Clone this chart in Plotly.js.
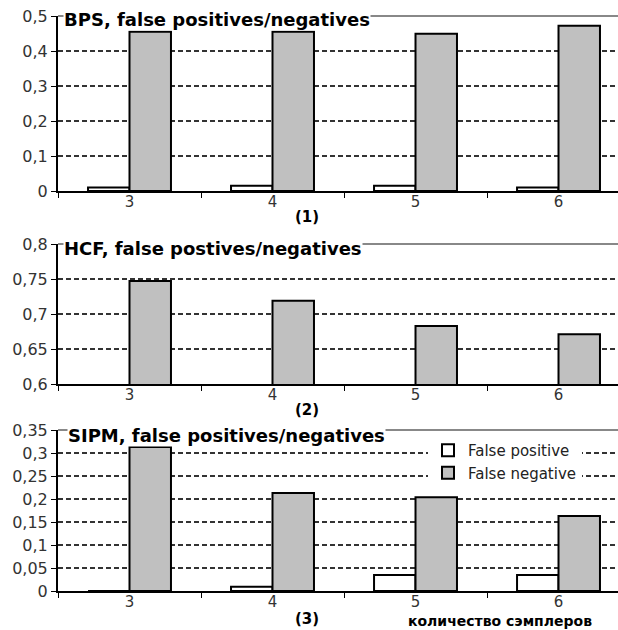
<!DOCTYPE html>
<html><head><meta charset="utf-8">
<script src="https://cdn.plot.ly/plotly-3.0.1.min.js"></script>
<style>html,body{margin:0;padding:0;background:#fff}</style>
</head><body><div id="chart" style="width:618px;height:630px"></div>
<script>
const categories = ["3", "4", "5", "6"];
const seriesNames = ["False positive", "False negative"];
const bpsFalsePositive = [0.01, 0.015, 0.015, 0.01];
const bpsFalseNegative = [0.455, 0.455, 0.449, 0.472];
const hcfFalsePositive = [0, 0, 0, 0];
const hcfFalseNegative = [0.747, 0.719, 0.683, 0.671];
const sipmFalsePositive = [0, 0.009, 0.035, 0.035];
const sipmFalseNegative = [0.313, 0.213, 0.204, 0.163];
const panelTitles = ["BPS, false positives/negatives", "HCF, false postives/negatives", "SIPM, false positives/negatives"];
const panelLabels = ["(1)", "(2)", "(3)"];
const xAxisTitle = "количество сэмплеров";

const W = 618, H = 630, L = 58, PW = W - L;
const px2y = p => 1 - p / H;
const px2x = p => (p - L) / PW;
const panels = [
  {fp: bpsFalsePositive, fn: bpsFalseNegative, top: 16, bottom: 191, range: [0, 0.5], dtick: 0.1, titleX: 63, titleY: 19, labelY: 217},
  {fp: hcfFalsePositive, fn: hcfFalseNegative, top: 244, bottom: 384, range: [0.6, 0.8], dtick: 0.05, titleX: 63, titleY: 249, labelY: 410},
  {fp: sipmFalsePositive, fn: sipmFalseNegative, top: 430, bottom: 591, range: [0, 0.35], dtick: 0.05, titleX: 67, titleY: 435, labelY: 619}
];
const fills = ["#ffffff", "#c0c0c0"];
const tickFont = {family: "DejaVu Sans", size: 15, color: "#333"};
const traces = [];
const layout = {
  width: W, height: H,
  margin: {l: L, r: 0, t: 0, b: 0, pad: 0},
  paper_bgcolor: "#fff", plot_bgcolor: "#fff",
  separators: ", ",
  barmode: "group", bargap: 0.42, bargroupgap: 0,
  showlegend: true,
  legend: {x: px2x(428), y: px2y(434), xanchor: "left", yanchor: "top", bgcolor: "#fff",
           font: {family: "DejaVu Sans", size: 15, color: "#222"}, traceorder: "normal",
           itemwidth: 30, tracegroupgap: 0},
  shapes: [], annotations: []
};
panels.forEach((p, i) => {
  const s = i === 0 ? "" : String(i + 1);
  [p.fp, p.fn].forEach((vals, k) => {
    traces.push({
      type: "bar", x: categories, y: vals, name: seriesNames[k],
      xaxis: "x" + s, yaxis: "y" + s,
      marker: {color: fills[k], line: {color: "#000", width: 2}},
      showlegend: i === 2, hoverinfo: "skip"
    });
  });
  layout["xaxis" + s] = {
    type: "category", range: [-0.5, 3.416], anchor: "y" + s,
    showgrid: false, zeroline: false, showline: true, linecolor: "#000", linewidth: 2,
    ticks: "outside", tickson: "boundaries", ticklen: 5, tickcolor: "#000", tickwidth: 1,
    ticklabelstandoff: -4,
    tickfont: tickFont, fixedrange: true
  };
  layout["yaxis" + s] = {
    domain: [px2y(p.bottom), px2y(p.top)], range: p.range, dtick: p.dtick, tick0: 0,
    anchor: "x" + s, showline: true, linecolor: "#000", linewidth: 2,
    ticks: "outside", ticklen: 5, tickcolor: "#000", tickwidth: 1,
    showgrid: true, gridcolor: "#333", gridwidth: 1.2, griddash: "5px,3px",
    zeroline: false, tickfont: {family: "DejaVu Sans", size: 16, color: "#333"}, fixedrange: true
  };
  layout.shapes.push({type: "line", xref: "paper", yref: "paper", x0: 0, x1: 1,
    y0: px2y(p.top), y1: px2y(p.top), line: {color: "#888", width: 2}, layer: "above"});
  layout.annotations.push({xref: "paper", yref: "paper", x: px2x(p.titleX), y: px2y(p.titleY),
    xanchor: "left", yanchor: "middle", text: panelTitles[i], showarrow: false,
    bgcolor: "#fff", borderpad: 0,
    font: {family: "DejaVu Sans", size: 18, weight: "bold", color: "#000"}});
  layout.annotations.push({xref: "paper", yref: "paper", x: px2x(307), y: px2y(p.labelY),
    xanchor: "center", yanchor: "middle", text: panelLabels[i], showarrow: false,
    font: {family: "DejaVu Sans", size: 15, weight: "bold", color: "#000"}});
});
layout.annotations.push({xref: "paper", yref: "paper", x: px2x(407), y: 0,
  xanchor: "left", yanchor: "bottom", text: xAxisTitle, showarrow: false, borderpad: 0,
  font: {family: "DejaVu Sans", size: 14, weight: "bold", color: "#000"}});
Plotly.newPlot("chart", traces, layout, {displayModeBar: false, staticPlot: true});
</script></body></html>
